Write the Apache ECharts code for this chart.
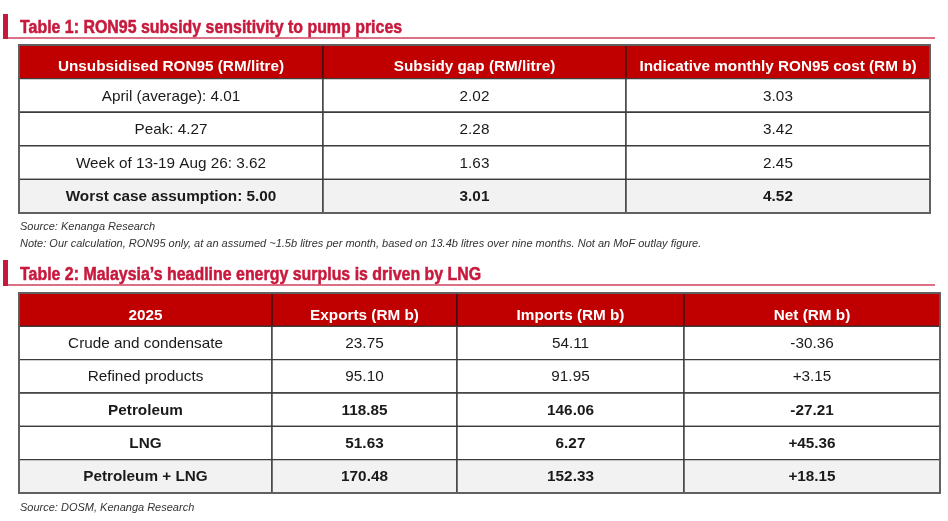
<!DOCTYPE html>
<html>
<head>
<meta charset="utf-8">
<script src="https://cdn.jsdelivr.net/npm/echarts@6/dist/echarts.min.js"></script>
<style>
html,body{margin:0;padding:0;background:#fff;}
#chart{width:948px;height:521px;}
</style>
</head>
<body>
<div id="chart"></div>
<script>
// ---------- DATA ----------
const t1Title = 'Table 1: RON95 subsidy sensitivity to pump prices';
const t1Headers = ['Unsubsidised RON95 (RM/litre)', 'Subsidy gap (RM/litre)', 'Indicative monthly RON95 cost (RM b)'];
const t1Labels = ['April (average): 4.01', 'Peak: 4.27', 'Week of 13-19 Aug 26: 3.62', 'Worst case assumption: 5.00'];
const t1Gap = [2.02, 2.28, 1.63, 3.01];
const t1Cost = [3.03, 3.42, 2.45, 4.52];
const t1BoldRows = [3];
const t1Source = 'Source: Kenanga Research';
const t1Note = 'Note: Our calculation, RON95 only, at an assumed ~1.5b litres per month, based on 13.4b litres over nine months. Not an MoF outlay figure.';

const t2Title = 'Table 2: Malaysia\u2019s headline energy surplus is driven by LNG';
const t2Headers = ['2025', 'Exports (RM b)', 'Imports (RM b)', 'Net (RM b)'];
const t2Labels = ['Crude and condensate', 'Refined products', 'Petroleum', 'LNG', 'Petroleum + LNG'];
const t2Exports = [23.75, 95.10, 118.85, 51.63, 170.48];
const t2Imports = [54.11, 91.95, 146.06, 6.27, 152.33];
const t2Net = [-30.36, 3.15, -27.21, 45.36, 18.15];
const t2BoldRows = [2, 3, 4];
const t2Source = 'Source: DOSM, Kenanga Research';

// ---------- LAYOUT (styles / sizes only) ----------
const t1ColWidths = [304, 303, 304];
const t2ColWidths = [253, 185, 227, 256];
const RED = '#c00000';
const TITLE_RED = '#c8183c';
const FONT_FAMILY = '"Liberation Sans", Arial, sans-serif';
const FONT = FONT_FAMILY;

function fmt(v) { return v.toFixed(2); }
function fmtSigned(v) { return (v > 0 ? '+' : '') + v.toFixed(2); }

function edges(widths) {
  const e = [0];
  widths.forEach(w => e.push(e[e.length - 1] + w));
  return e;
}

function buildCells(headers, columns, boldRows, widths) {
  const e = edges(widths);
  const nRows = columns[0].length;
  const cells = [];
  headers.forEach((h, c) => cells.push({ value: [e[c], e[c + 1], 0], text: h, kind: 'head' }));
  for (let r = 0; r < nRows; r++) {
    const last = r === nRows - 1;
    columns.forEach((col, c) => {
      cells.push({
        value: [e[c], e[c + 1], r + 1],
        text: col[r],
        kind: last ? 'shade' : 'body',
        bold: boldRows.indexOf(r) >= 0
      });
    });
  }
  return cells;
}

const cells1 = buildCells(
  t1Headers,
  [t1Labels, t1Gap.map(fmt), t1Cost.map(fmt)],
  t1BoldRows, t1ColWidths);
const cells2 = buildCells(
  t2Headers,
  [t2Labels, t2Exports.map(fmt), t2Imports.map(fmt), t2Net.map(fmtSigned)],
  t2BoldRows, t2ColWidths);

function makeRender(cells, headOffset) {
  return function (params, api) {
    const cell = cells[params.dataIndex];
    const row = api.value(2);
    const p0 = api.coord([api.value(0), row]);
    const p1 = api.coord([api.value(1), row]);
    const h = api.size([0, 1])[1];
    const x = p0[0], y = p0[1] - h / 2, w = p1[0] - p0[0];
    const isHead = cell.kind === 'head';
    const fill = isHead ? RED : (cell.kind === 'shade' ? '#f2f2f2' : '#ffffff');
    return {
      type: 'group',
      children: [
        {
          type: 'rect',
          shape: { x: x, y: y, width: w, height: h },
          style: { fill: fill, stroke: isHead ? '#3a1010' : '#3c3c3c', lineWidth: 1.4 }
        },
        {
          type: 'text',
          x: x + w / 2,
          y: p0[1] + (isHead ? headOffset : 1),
          scaleX: 1.02,
          style: {
            text: cell.text,
            x: 0,
            y: 0,
            align: 'center',
            verticalAlign: 'middle',
            fill: isHead ? '#ffffff' : '#1a1a1a',
            fontSize: 15,
            fontFamily: FONT_FAMILY,
            fontWeight: (isHead || cell.bold) ? 'bold' : 'normal'
          }
        }
      ]
    };
  };
}

function rowCats(n) { const a = []; for (let i = 0; i < n; i++) a.push('r' + i); return a; }

const chart = echarts.init(document.getElementById('chart'), null, { renderer: 'canvas' });

function titleGraphics(text, barTop, midY, lineY) {
  return [
    { type: 'rect', shape: { x: 3, y: barTop, width: 5, height: lineY - barTop + 1 }, style: { fill: TITLE_RED } },
    { type: 'line', shape: { x1: 8, y1: lineY, x2: 935, y2: lineY }, style: { stroke: '#d0405e', lineWidth: 1.6 } },
    { type: 'text', x: 20, y: midY, scaleX: 0.885, scaleY: 1,
      style: { text: text, x: 0, y: 0, verticalAlign: 'middle', fill: TITLE_RED,
        stroke: TITLE_RED, lineWidth: 0.5,
        font: 'bold 18px ' + FONT } }
  ];
}

const option = {
  animation: false,
  backgroundColor: '#ffffff',
  grid: [
    { left: 19, top: 45, width: 911, height: 168, show: true, borderColor: '#606060', borderWidth: 1.8, backgroundColor: 'transparent', z: 10 },
    { left: 19, top: 293, width: 921, height: 200, show: true, borderColor: '#606060', borderWidth: 1.8, backgroundColor: 'transparent', z: 10 }
  ],
  xAxis: [
    { type: 'value', gridIndex: 0, min: 0, max: edges(t1ColWidths).pop(), show: false },
    { type: 'value', gridIndex: 1, min: 0, max: edges(t2ColWidths).pop(), show: false }
  ],
  yAxis: [
    { type: 'category', gridIndex: 0, data: rowCats(t1Labels.length + 1), inverse: true, show: false },
    { type: 'category', gridIndex: 1, data: rowCats(t2Labels.length + 1), inverse: true, show: false }
  ],
  series: [
    { type: 'custom', xAxisIndex: 0, yAxisIndex: 0, renderItem: makeRender(cells1, 5),
      encode: { x: [0, 1], y: 2 }, data: cells1.map(c => c.value), silent: true },
    { type: 'custom', xAxisIndex: 1, yAxisIndex: 1, renderItem: makeRender(cells2, 6),
      encode: { x: [0, 1], y: 2 }, data: cells2.map(c => c.value), silent: true }
  ],
  graphic: [].concat(
    titleGraphics(t1Title, 14, 28, 38),
    titleGraphics(t2Title, 260, 275, 285),
    [
      { type: 'text', style: { text: t1Source, x: 20, y: 227, verticalAlign: 'middle', fill: '#333', font: 'italic 11px ' + FONT } },
      { type: 'text', style: { text: t1Note, x: 20, y: 244, verticalAlign: 'middle', fill: '#333', font: 'italic 11px ' + FONT } },
      { type: 'text', style: { text: t2Source, x: 20, y: 508, verticalAlign: 'middle', fill: '#333', font: 'italic 11px ' + FONT } }
    ]
  )
};
chart.setOption(option);
</script>
</body>
</html>
